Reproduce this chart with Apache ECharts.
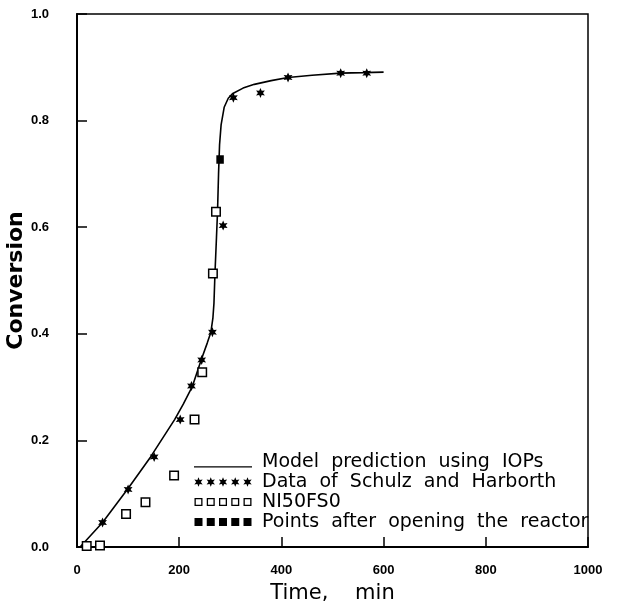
<!DOCTYPE html>
<html>
<head>
<meta charset="utf-8">
<script src="https://cdn.jsdelivr.net/npm/echarts@6/dist/echarts.min.js"></script>
<style>
html, body { margin: 0; padding: 0; background: #fff; }
#chart { width: 617px; height: 606px; }
</style>
</head>
<body>
<div id="chart"></div>
<script>
// model prediction (solid line)
var modelTime = [6, 50, 101, 144, 191, 208, 226, 243, 255, 262, 266, 268, 270, 273, 275, 277, 279, 282, 288, 296, 305, 325, 347, 380, 413, 460, 516, 560, 600];
var modelConv = [0, 0.046, 0.111, 0.169, 0.239, 0.268, 0.302, 0.351, 0.383, 0.403, 0.43, 0.457, 0.513, 0.582, 0.629, 0.700, 0.755, 0.792, 0.825, 0.842, 0.851, 0.861, 0.868, 0.875, 0.881, 0.885, 0.889, 0.890, 0.891];

// Data of Schulz and Harborth (stars)
var schulzTime = [50, 100, 151, 202, 224, 244, 265, 286, 306, 359, 413, 516, 567];
var schulzConv = [0.046, 0.108, 0.169, 0.239, 0.302, 0.351, 0.403, 0.603, 0.843, 0.852, 0.881, 0.889, 0.889];

// NI50FS0 (open squares)
var niTime = [19, 45, 96, 134, 190, 230, 245, 266, 272];
var niConv = [0.002, 0.003, 0.062, 0.084, 0.134, 0.239, 0.328, 0.513, 0.629];

// points after opening the reactor (filled squares)
var openTime = [280];
var openConv = [0.727];

var legendNames = [
    'Model prediction using IOPs',
    'Data of Schulz and Harborth',
    'NI50FS0',
    'Points after opening the reactor'
];

function pairs(xs, ys) {
    return xs.map(function (x, i) { return [x, ys[i]]; });
}

function starPath(cx, cy, R, r) {
    var s = '';
    for (var k = 0; k < 12; k++) {
        var a = (-90 + k * 30) * Math.PI / 180;
        var rr = k % 2 ? r : R;
        s += (k ? 'L' : 'M') + (cx + rr * Math.cos(a)).toFixed(2) + ' ' + (cy + rr * Math.sin(a)).toFixed(2);
    }
    return s + 'Z';
}
function squarePath(cx, cy, h) {
    return 'M' + (cx - h) + ' ' + (cy - h) + 'L' + (cx + h) + ' ' + (cy - h) +
        'L' + (cx + h) + ' ' + (cy + h) + 'L' + (cx - h) + ' ' + (cy + h) + 'Z';
}
function holeSquarePath(cx, cy, h, t) {
    var i = h - t;
    // inner square reversed so it punches a hole
    return squarePath(cx, cy, h) +
        'M' + (cx - i) + ' ' + (cy - i) + 'L' + (cx - i) + ' ' + (cy + i) +
        'L' + (cx + i) + ' ' + (cy + i) + 'L' + (cx + i) + ' ' + (cy - i) + 'Z';
}

// legend icons: five marks in a row, all on the same 58x12 box
var ICON_W = 58, ICON_H = 12;
var iconCentres = [4.5, 16.75, 29, 41.25, 53.5];
var frame = 'M0 0M' + ICON_W + ' ' + ICON_H;
function rowIcon(fn) {
    return 'path://' + frame + iconCentres.map(fn).join('');
}
var lineIcon = 'path://' + frame + 'M0 10.2L58 10.2L58 11.6L0 11.6Z';
var starIcon = rowIcon(function (c) { return starPath(c, 6, 4.8, 2.3); });
var openIcon = rowIcon(function (c) { return holeSquarePath(c, 6, 4, 1.3); });
var fillIcon = rowIcon(function (c) { return squarePath(c, 6, 4); });

var chart = echarts.init(document.getElementById('chart'));

var tickFont = { color: '#000', fontFamily: 'Liberation Sans', fontWeight: 'bold', fontSize: 13 };

chart.setOption({
    animation: false,
    backgroundColor: '#fff',
    grid: {
        left: 77, right: 29, top: 14, bottom: 59,
        outerBoundsMode: 'none', containLabel: false,
        show: true, borderColor: '#000', borderWidth: 1.5, backgroundColor: 'transparent'
    },
    xAxis: {
        type: 'value', min: 0, max: 1000, interval: 200,
        name: 'Time,    min', nameLocation: 'middle', nameGap: 36,
        nameTextStyle: { color: '#000', fontFamily: 'DejaVu Sans', fontSize: 21 },
        axisLine: { lineStyle: { color: '#000', width: 2 } },
        axisTick: { inside: true, length: 10, lineStyle: { color: '#000', width: 1.5 } },
        axisLabel: Object.assign({ margin: 17, formatter: function (v) { return String(v); } }, tickFont),
        splitLine: { show: false }
    },
    yAxis: {
        type: 'value', min: 0, max: 1, interval: 0.2,
        name: 'Conversion', nameLocation: 'middle', nameGap: 50, nameMoveOverlap: false,
        nameTextStyle: { color: '#000', fontFamily: 'DejaVu Sans', fontWeight: 'bold', fontSize: 22 },
        axisLine: { lineStyle: { color: '#000', width: 2 } },
        axisTick: { inside: true, length: 10, lineStyle: { color: '#000', width: 1.5 } },
        axisLabel: Object.assign({ margin: 28, formatter: function (v) { return v.toFixed(1); } }, tickFont),
        splitLine: { show: false }
    },
    legend: {
        orient: 'vertical', left: 194, top: 452, padding: 0, itemGap: 0,
        itemWidth: ICON_W, itemHeight: ICON_H, selectedMode: false,
        itemStyle: { color: '#000', borderWidth: 0 },
        textStyle: { color: '#000', fontFamily: 'DejaVu Sans', fontSize: 19, lineHeight: 20, padding: [0, 0, 0, 5] },
        data: [
            { name: legendNames[0], icon: lineIcon },
            { name: legendNames[1], icon: starIcon },
            { name: legendNames[2], icon: openIcon },
            { name: legendNames[3], icon: fillIcon }
        ],
        formatter: function (name) { return name.split(' ').join('  '); }
    },
    series: [
        {
            name: legendNames[0], type: 'line', data: pairs(modelTime, modelConv),
            showSymbol: false, smooth: false,
            lineStyle: { color: '#000', width: 1.6 }, itemStyle: { color: '#000' }, z: 2
        },
        {
            name: legendNames[2], type: 'scatter', data: pairs(niTime, niConv),
            symbol: 'rect', symbolSize: 8.5,
            itemStyle: { color: '#fff', borderColor: '#000', borderWidth: 1.5, opacity: 1 }, z: 3
        },
        {
            name: legendNames[1], type: 'scatter', data: pairs(schulzTime, schulzConv),
            symbol: 'path://' + starPath(10, 10, 10, 5), symbolSize: [8.8, 10],
            itemStyle: { color: '#000', opacity: 1 }, z: 4
        },
        {
            name: legendNames[3], type: 'scatter', data: pairs(openTime, openConv),
            symbol: 'rect', symbolSize: [7.5, 8.5],
            itemStyle: { color: '#000', opacity: 1 }, z: 4
        }
    ]
});
</script>
</body>
</html>
